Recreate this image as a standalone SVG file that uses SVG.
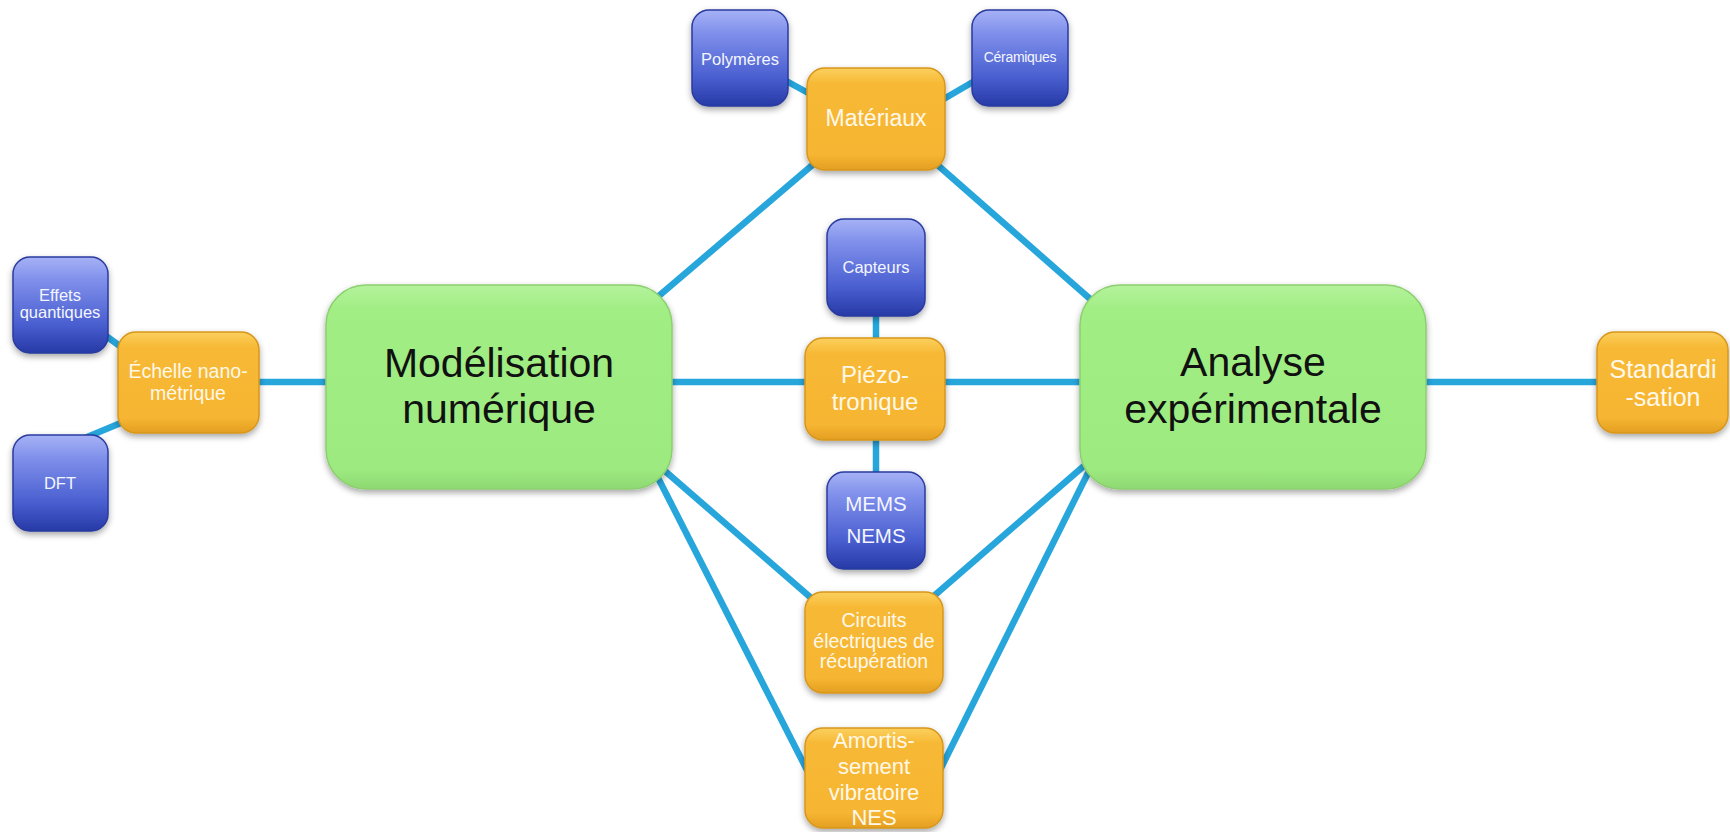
<svg xmlns="http://www.w3.org/2000/svg" width="1730" height="832" viewBox="0 0 1730 832">
<defs>
<linearGradient id="gGreen" x1="0" y1="0" x2="0" y2="1">
<stop offset="0" stop-color="#b4f29c"/>
<stop offset="0.12" stop-color="#a1ee84"/>
<stop offset="0.9" stop-color="#9deb80"/>
<stop offset="1" stop-color="#8fd873"/>
</linearGradient>
<linearGradient id="gOrange" x1="0" y1="0" x2="0" y2="1">
<stop offset="0" stop-color="#fbd05e"/>
<stop offset="0.15" stop-color="#f7b935"/>
<stop offset="0.85" stop-color="#f6b532"/>
<stop offset="1" stop-color="#e39f22"/>
</linearGradient>
<linearGradient id="gBlue" x1="0" y1="0" x2="0" y2="1">
<stop offset="0" stop-color="#a6b2f6"/>
<stop offset="0.25" stop-color="#7e8eea"/>
<stop offset="0.7" stop-color="#4a5fd0"/>
<stop offset="1" stop-color="#2639a6"/>
</linearGradient>
<filter id="sh" x="-20%" y="-20%" width="140%" height="150%">
<feDropShadow dx="0" dy="3" stdDeviation="3" flood-color="#000" flood-opacity="0.35"/>
</filter>
</defs>
<style>
.con line{stroke:#27a6dc;stroke-width:6.5;stroke-linecap:butt}
.green{fill:url(#gGreen);stroke:#8ccf6f;stroke-width:1.5;filter:url(#sh)}
.orange{fill:url(#gOrange);stroke:#d7961c;stroke-width:1.5;filter:url(#sh)}
.blue{fill:url(#gBlue);stroke:#2a3b9e;stroke-width:1.5;filter:url(#sh)}
.tg{font-family:"Liberation Sans",Arial,sans-serif;fill:#111;text-anchor:middle;font-size:41px}
.to{font-family:"Liberation Sans",Arial,sans-serif;fill:#fff8e8;text-anchor:middle}
.tb{font-family:"Liberation Sans",Arial,sans-serif;fill:#f4f6ff;text-anchor:middle}
</style>
<rect width="1730" height="832" fill="#fff"/>
<g id="connectors" class="con">
<line x1="95" y1="328" x2="135" y2="357"/>
<line x1="80" y1="440" x2="135" y2="417"/>
<line x1="250" y1="382" x2="340" y2="382"/>
<line x1="770" y1="72" x2="830" y2="105"/>
<line x1="930" y1="107" x2="990" y2="72"/>
<line x1="640" y1="312" x2="830" y2="150"/>
<line x1="925" y1="154" x2="1105" y2="312"/>
<line x1="660" y1="382" x2="815" y2="382"/>
<line x1="935" y1="382" x2="1090" y2="382"/>
<line x1="1415" y1="382" x2="1610" y2="382"/>
<line x1="876" y1="305" x2="876" y2="345"/>
<line x1="876" y1="430" x2="876" y2="482"/>
<line x1="650" y1="458" x2="825" y2="610"/>
<line x1="652" y1="466" x2="810" y2="776"/>
<line x1="1100" y1="452" x2="920" y2="608"/>
<line x1="1095" y1="459" x2="937" y2="776"/>
</g>
<g id="modelisation">
<rect class="green" x="326" y="285" width="346" height="204" rx="40"/>
<text class="tg" x="499" y="377">Modélisation</text>
<text class="tg" x="499" y="423">numérique</text>
</g>
<g id="analyse">
<rect class="green" x="1080" y="285" width="346" height="204" rx="40"/>
<text class="tg" x="1253" y="376">Analyse</text>
<text class="tg" x="1253" y="423">expérimentale</text>
</g>
<g id="materiaux">
<rect class="orange" x="807" y="68" width="138" height="102" rx="18"/>
<text class="to" x="876" y="126" font-size="23">Matériaux</text>
</g>
<g id="polymeres">
<rect class="blue" x="692" y="10" width="96" height="96" rx="17"/>
<text class="tb" x="740" y="65" font-size="16.5">Polymères</text>
</g>
<g id="ceramiques">
<rect class="blue" x="972" y="10" width="96" height="96" rx="17"/>
<text class="tb" x="1020" y="62" font-size="14" fill="#e2e6f6" letter-spacing="-0.3">Céramiques</text>
</g>
<g id="echelle">
<rect class="orange" x="118" y="332" width="141" height="101" rx="18"/>
<text class="to" x="188" y="378" font-size="19.5">Échelle nano-</text>
<text class="to" x="188" y="400" font-size="19.5">métrique</text>
</g>
<g id="effets">
<rect class="blue" x="13" y="257" width="95" height="96" rx="17"/>
<text class="tb" x="60" y="301" font-size="16.5">Effets</text>
<text class="tb" x="60" y="318" font-size="16.5">quantiques</text>
</g>
<g id="dft">
<rect class="blue" x="13" y="435" width="95" height="96" rx="17"/>
<text class="tb" x="60" y="489" font-size="16.5">DFT</text>
</g>
<g id="capteurs">
<rect class="blue" x="827" y="219" width="98" height="97" rx="17"/>
<text class="tb" x="876" y="273" font-size="16.5">Capteurs</text>
</g>
<g id="piezo">
<rect class="orange" x="805" y="338" width="140" height="102" rx="18"/>
<text class="to" x="875" y="383" font-size="24">Piézo-</text>
<text class="to" x="875" y="410" font-size="24">tronique</text>
</g>
<g id="mems">
<rect class="blue" x="827" y="472" width="98" height="97" rx="17"/>
<text class="tb" x="876" y="511" font-size="20.5">MEMS</text>
<text class="tb" x="876" y="543" font-size="20.5">NEMS</text>
</g>
<g id="circuits">
<rect class="orange" x="805" y="592" width="138" height="101" rx="18"/>
<text class="to" x="874" y="627" font-size="19.5">Circuits</text>
<text class="to" x="874" y="648" font-size="19.5">électriques de</text>
<text class="to" x="874" y="668" font-size="19.5">récupération</text>
</g>
<g id="amortissement">
<rect class="orange" x="805" y="728" width="138" height="100" rx="18"/>
<text class="to" x="874" y="748" font-size="22">Amortis-</text>
<text class="to" x="874" y="774" font-size="22">sement</text>
<text class="to" x="874" y="800" font-size="22">vibratoire</text>
<text class="to" x="874" y="825" font-size="22">NES</text>
</g>
<g id="standardisation">
<rect class="orange" x="1597" y="332" width="131" height="101" rx="18"/>
<text class="to" x="1663" y="378" font-size="25">Standardi</text>
<text class="to" x="1663" y="406" font-size="25">-sation</text>
</g>
</svg>
